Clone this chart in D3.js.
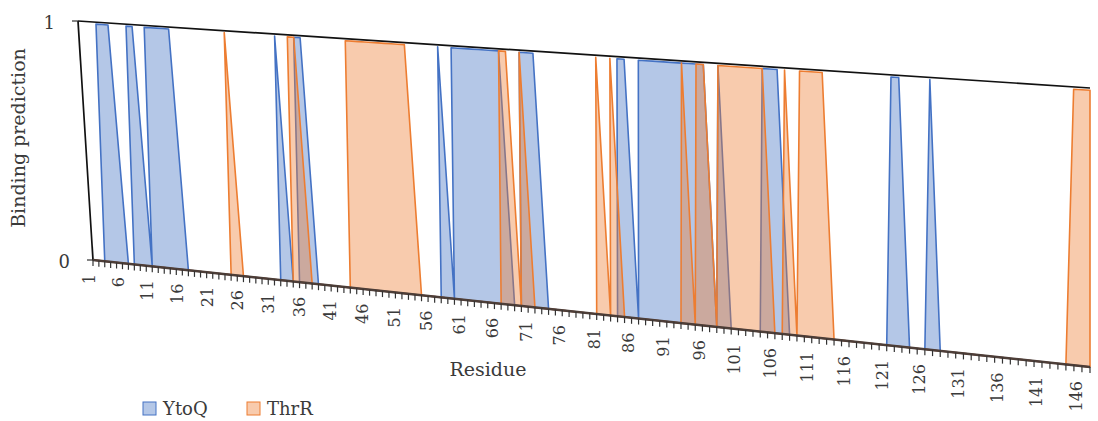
<!DOCTYPE html>
<html>
<head>
<meta charset="utf-8">
<script src="https://cdn.jsdelivr.net/npm/d3@7"></script>
<style>
body { margin: 0; background: #fff; }
text { font-family: "DejaVu Serif", serif; fill: #3a3a3a; }
</style>
</head>
<body>
<div id="chart"></div>
<script>
// residues along the x axis
var residues = d3.range(1, 147);
var tickLabels = residues.filter(function(r) { return (r - 1) % 5 === 0; });
var yTickLabels = [0, 1];
var seriesNames = ["YtoQ", "ThrR"];

// binding prediction per residue (1..146)
var ytoq = [
	0,0,0,1,1,1,0,0,1,1,
	0,1,1,1,1,1,0,0,0,0,
	0,0,0,0,0,0,0,0,0,0,
	0,0,1,0,0,1,1,0,0,0,
	0,0,0,0,0,0,0,0,0,0,
	0,0,0,0,0,0,0,1,0,1,
	1,1,1,1,1,1,1,0,0,1,
	1,1,0,0,0,0,0,0,0,0,
	0,0,0,1,1,0,1,1,1,1,
	1,1,1,1,1,1,0,1,0,0,
	0,0,0,1,1,1,0,0,0,0,
	0,0,0,0,0,0,0,0,0,0,
	1,1,0,0,0,1,0,0,0,0,
	0,0,0,0,0,0,0,0,0,0,
	0,0,0,0,0,0
];
var thrr = [
	0,0,0,0,0,0,0,0,0,0,
	0,0,0,0,0,0,0,0,0,0,
	0,0,0,0,1,0,0,0,0,0,
	0,0,0,0,1,1,0,0,0,0,
	0,0,0,1,1,1,1,1,1,1,
	1,1,1,0,0,0,0,0,0,0,
	0,0,0,0,0,0,1,1,0,1,
	0,0,0,0,0,0,0,0,0,0,
	1,0,1,0,0,0,0,0,0,0,
	0,0,1,0,1,1,0,1,1,1,
	1,1,1,1,0,0,1,0,1,1,
	1,1,0,0,0,0,0,0,0,0,
	0,0,0,0,0,0,0,0,0,0,
	0,0,0,0,0,0,0,0,0,0,
	0,0,0,1,1,1
];

var width = 1098, height = 421;
var colors = ["#4472c4", "#ed7d31"];

// plot area seen in perspective: corners for (u,v) = (0,0) (1,0) (1,1) (0,1)
var pBL = [93, 260], pBR = [1090, 367], pTR = [1090, 88], pTL = [78, 21];

function makeProjection(p0, p1, p2, p3) {
	var dx1 = p1[0] - p2[0], dx2 = p3[0] - p2[0], dx3 = p0[0] - p1[0] + p2[0] - p3[0];
	var dy1 = p1[1] - p2[1], dy2 = p3[1] - p2[1], dy3 = p0[1] - p1[1] + p2[1] - p3[1];
	var den = dx1 * dy2 - dx2 * dy1;
	var g = (dx3 * dy2 - dx2 * dy3) / den;
	var h = (dx1 * dy3 - dx3 * dy1) / den;
	var a = p1[0] - p0[0] + g * p1[0], b = p3[0] - p0[0] + h * p3[0], c = p0[0];
	var d = p1[1] - p0[1] + g * p1[1], e = p3[1] - p0[1] + h * p3[1], f = p0[1];
	return function(u, v) {
		var w = g * u + h * v + 1;
		return [(a * u + b * v + c) / w, (d * u + e * v + f) / w];
	};
}
var proj = makeProjection(pBL, pBR, pTR, pTL);

var x = d3.scaleLinear().domain([1, 146]).range([0, 1]);
var y = d3.scaleLinear().domain([0, 1]).range([0, 0.992]);

var svg = d3.select("#chart").append("svg")
	.attr("width", width)
	.attr("height", height);

var area = d3.area()
	.x0(function(d) { return proj(x(d.r), y(0))[0]; })
	.y0(function(d) { return proj(x(d.r), y(0))[1]; })
	.x1(function(d) { return proj(x(d.r), y(d.v))[0]; })
	.y1(function(d) { return proj(x(d.r), y(d.v))[1]; });

// top border and value axis
var line = d3.line();
svg.append("path")
	.attr("d", line([proj(0, 1), proj(1, 1)]))
	.attr("stroke", "#111").attr("stroke-width", 1.7).attr("fill", "none");

[ytoq, thrr].forEach(function(vals, i) {
	var data = residues.map(function(r, j) { return {r: r, v: vals[j]}; });
	svg.append("path")
		.datum(data)
		.attr("d", area)
		.attr("fill", colors[i])
		.attr("fill-opacity", 0.4)
		.attr("stroke", colors[i])
		.attr("stroke-width", 1.6)
		.attr("stroke-linejoin", "round");
});

svg.append("path")
	.attr("d", line([proj(0, 0), proj(0, 1)]))
	.attr("stroke", "#111").attr("stroke-width", 1.7).attr("fill", "none");

yTickLabels.forEach(function(t) {
	var p = proj(0, t);
	svg.append("line")
		.attr("x1", p[0] - 6).attr("y1", p[1])
		.attr("x2", p[0]).attr("y2", p[1])
		.attr("stroke", "#333").attr("stroke-width", 1.2);
	svg.append("text")
		.attr("x", p[0] - 23)
		.attr("y", p[1] + 3)
		.attr("text-anchor", "end")
		.attr("dominant-baseline", "middle")
		.style("font-size", "18px")
		.text(t);
});

// category axis
svg.append("path")
	.attr("d", line([proj(0, 0), proj(1, 0)]))
	.attr("stroke", "#4d3e38").attr("stroke-width", 2.6).attr("fill", "none");

svg.selectAll("line.tick")
	.data(residues)
	.enter()
	.append("line")
	.attr("class", "tick")
	.attr("x1", function(r) { return proj(x(r), 0)[0]; })
	.attr("y1", function(r) { return proj(x(r), 0)[1]; })
	.attr("x2", function(r) { return proj(x(r), 0)[0]; })
	.attr("y2", function(r) { return proj(x(r), 0)[1] + 6; })
	.attr("stroke", "#333")
	.attr("stroke-width", 1.2);

svg.selectAll("text.xlab")
	.data(tickLabels)
	.enter()
	.append("text")
	.attr("class", "xlab")
	.attr("transform", function(r) {
		var p = proj(x(r), 0);
		return "translate(" + (p[0] - 3 - 10 * x(r)) + "," + (p[1] + 14) + ") rotate(-90)";
	})
	.attr("text-anchor", "end")
	.attr("dominant-baseline", "middle")
	.style("font-size", "16px")
	.text(function(r) { return r; });

// axis titles
svg.append("text")
	.attr("transform", "translate(20,138) rotate(-90)")
	.attr("text-anchor", "middle")
	.attr("dominant-baseline", "middle")
	.style("font-size", "19px")
	.text("Binding prediction");

svg.append("text")
	.attr("x", 488)
	.attr("y", 376)
	.attr("text-anchor", "middle")
	.style("font-size", "19px")
	.text("Residue");

// legend
var legendX = [143, 247];
seriesNames.forEach(function(name, i) {
	svg.append("rect")
		.attr("x", legendX[i]).attr("y", 402)
		.attr("width", 13).attr("height", 13)
		.attr("fill", colors[i]).attr("fill-opacity", 0.4)
		.attr("stroke", colors[i]).attr("stroke-width", 1);
	svg.append("text")
		.attr("x", legendX[i] + 20)
		.attr("y", 415)
		.style("font-size", "18px")
		.text(name);
});
</script>
</body>
</html>
